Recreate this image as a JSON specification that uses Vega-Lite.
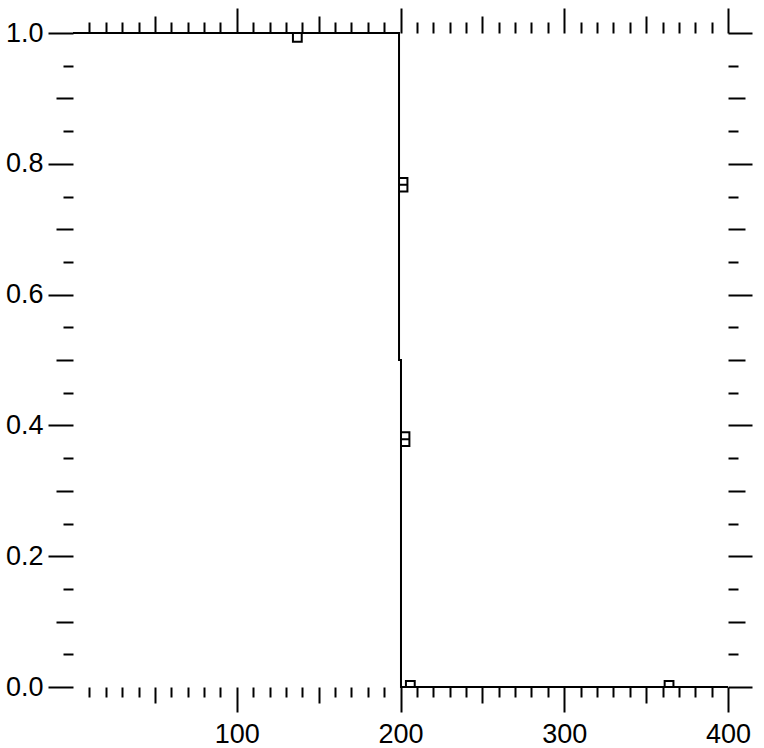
{
  "$schema": "https://vega.github.io/schema/vega-lite/v6.json",
  "width": 655,
  "height": 654,
  "autosize": {"type": "none"},
  "padding": {"left": 73, "top": 33, "right": 36, "bottom": 61},
  "background": "white",
  "config": {
    "view": {"stroke": null},
    "axis": {
      "domain": false,
      "grid": false,
      "title": null,
      "tickColor": "black",
      "tickWidth": 2,
      "tickCap": "butt",
      "labelFont": "Liberation Sans",
      "labelFontSize": 27,
      "labelColor": "black",
      "labelFlush": false,
      "labelOverlap": false
    }
  },
  "layer": [
    {
      "data": {
        "values": [
          {"x": 0, "y": 1},
          {"x": 199.1, "y": 1},
          {"x": 199.1, "y": 0.5},
          {"x": 200.3, "y": 0.5},
          {"x": 200.3, "y": 0},
          {"x": 400, "y": 0}
        ]
      },
      "mark": {"type": "line", "color": "black", "strokeWidth": 2, "interpolate": "linear"},
      "encoding": {
        "x": {
          "field": "x",
          "type": "quantitative",
          "scale": {"domain": [0, 400], "nice": false, "zero": false},
          "axis": {
            "orient": "bottom",
            "values": [10, 20, 30, 40, 50, 60, 70, 80, 90, 100, 110, 120, 130, 140, 150, 160, 170, 180, 190, 200, 210, 220, 230, 240, 250, 260, 270, 280, 290, 300, 310, 320, 330, 340, 350, 360, 370, 380, 390, 400],
            "tickSize": {"condition": [{"test": "datum.value % 100 === 0", "value": 25}, {"test": "datum.value % 50 === 0", "value": 16}], "value": 10},
            "labelExpr": "datum.value % 100 === 0 ? format(datum.value, 'd') : ''",
            "labelPadding": 9
          }
        },
        "y": {
          "field": "y",
          "type": "quantitative",
          "scale": {"domain": [0, 1], "nice": false, "zero": false},
          "axis": {
            "orient": "left",
            "values": [0, 0.05, 0.1, 0.15, 0.2, 0.25, 0.3, 0.35, 0.4, 0.45, 0.5, 0.55, 0.6, 0.65, 0.7, 0.75, 0.8, 0.85, 0.9, 0.95, 1],
            "tickSize": {"condition": [{"test": "round(datum.value * 100) % 20 === 0", "value": 25}, {"test": "round(datum.value * 100) % 10 === 0", "value": 17}], "value": 10},
            "labelExpr": "round(datum.value * 100) % 20 === 0 ? format(datum.value, '.1f') : ''",
            "labelPadding": 5
          }
        }
      }
    },
    {
      "data": {
        "values": [
          {"x": 137, "y": 1, "kind": "top"},
          {"x": 199.1, "y": 0.768, "kind": "mid"},
          {"x": 200.3, "y": 0.379, "kind": "mid"},
          {"x": 206, "y": 0, "kind": "bottom"},
          {"x": 364, "y": 0, "kind": "bottom"}
        ]
      },
      "mark": {"type": "point", "filled": false, "stroke": "black", "strokeWidth": 2, "size": 256, "opacity": 1},
      "encoding": {
        "x": {
          "field": "x",
          "type": "quantitative",
          "axis": {
            "orient": "top",
            "values": [10, 20, 30, 40, 50, 60, 70, 80, 90, 100, 110, 120, 130, 140, 150, 160, 170, 180, 190, 200, 210, 220, 230, 240, 250, 260, 270, 280, 290, 300, 310, 320, 330, 340, 350, 360, 370, 380, 390, 400],
            "tickSize": {"condition": [{"test": "datum.value % 100 === 0", "value": 25}, {"test": "datum.value % 50 === 0", "value": 17}], "value": 11},
            "labels": false
          }
        },
        "y": {
          "field": "y",
          "type": "quantitative",
          "axis": {
            "orient": "right",
            "values": [0, 0.05, 0.1, 0.15, 0.2, 0.25, 0.3, 0.35, 0.4, 0.45, 0.5, 0.55, 0.6, 0.65, 0.7, 0.75, 0.8, 0.85, 0.9, 0.95, 1],
            "tickSize": {"condition": [{"test": "round(datum.value * 100) % 20 === 0", "value": 24}, {"test": "round(datum.value * 100) % 10 === 0", "value": 17}], "value": 10},
            "labels": false
          }
        },
        "shape": {
          "field": "kind",
          "type": "nominal",
          "scale": {
            "domain": ["top", "mid", "bottom"],
            "range": ["M-0.55,0L-0.55,1.1L0.55,1.1L0.55,0", "M0,-0.85L1.05,-0.85L1.05,0.85L0,0.85M0,0L1.05,0", "M-0.55,0L-0.55,-0.75L0.55,-0.75L0.55,0"]
          },
          "legend": null
        }
      }
    }
  ],
  "resolve": {"axis": {"x": "independent", "y": "independent"}}
}
